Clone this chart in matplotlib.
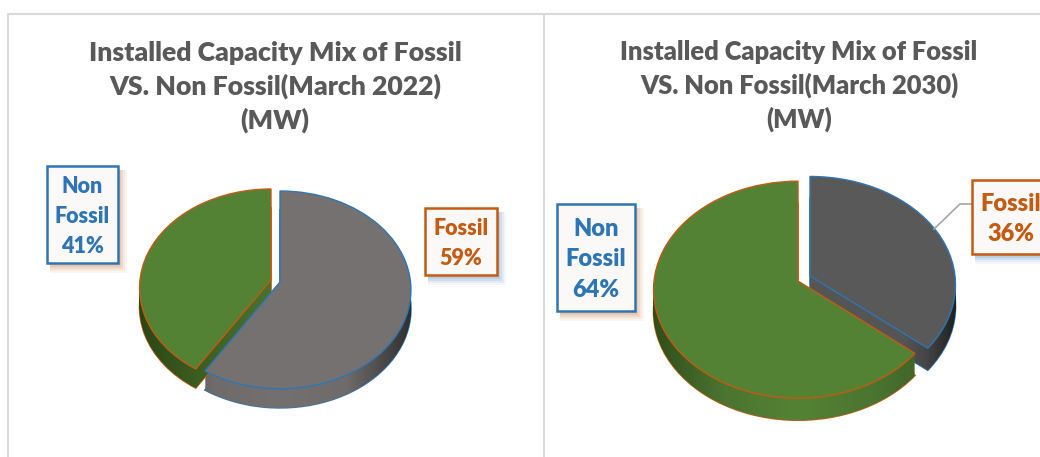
"""Two exploded 3D-look pie charts of fossil vs non fossil capacity."""

import matplotlib
matplotlib.use("Agg")
import matplotlib.pyplot as plt
import numpy as np
from matplotlib.colors import LinearSegmentedColormap
from matplotlib.patches import Rectangle
from matplotlib.transforms import Transform

categories = ["Fossil", "Non\nFossil"]
shares_2022 = [59, 41]
shares_2030 = [36, 64]
title_2022 = "Installed Capacity Mix of Fossil\nVS. Non Fossil(March 2022)\n(MW)"
title_2030 = "Installed Capacity Mix of Fossil\nVS. Non Fossil(March 2030)\n(MW)"

GREEN = "#548235"
ORANGE = "#c55a11"
BLUE = "#2e75b6"
TITLE_GREY = "#595959"
PANEL_LINE = "#d9d9d9"

plt.rcParams["font.family"] = ["Lato", "DejaVu Sans"]


class TiltedDisk(Transform):
    """Map the unit pie onto a tilted disk in pixel coordinates."""

    input_dims = 2
    output_dims = 2

    def __init__(self, cx, cy, rx, ry, tilt=0.08):
        super().__init__()
        self.cx, self.cy, self.rx, self.ry, self.tilt = cx, cy, rx, ry, tilt

    def transform_non_affine(self, values):
        x, y = np.asarray(values).T
        w = 1 + self.tilt * y
        return np.column_stack([self.cx + self.rx * x / w, self.cy - self.ry * y / w])


def draw_wall(ax, shares, index, disk, depth, shades, edge, zorder):
    """Stack shifted copies of one slice to get the side wall."""
    cx, cy, rx, ry = disk
    cmap = LinearSegmentedColormap.from_list("wall", shades)
    shade = np.linspace(0, 1, 256).reshape(1, -1)
    for step in range(depth, 0, -1):
        wedges, _ = ax.pie(shares, startangle=90, counterclock=False)
        for wedge in wedges:
            wedge.set_visible(False)
        wedge = wedges[index]
        wedge.set_transform(TiltedDisk(cx, cy + step, rx, ry) + ax.transData)
        image = ax.imshow(
            shade,
            cmap=cmap,
            aspect="auto",
            extent=(cx - rx - 2, cx + rx + 2, cy + ry + 40, cy - ry - 20),
            zorder=zorder,
        )
        image.set_clip_path(wedge)
        if step == depth:
            # outline sits under the wall so only the outer rim shows
            wedge.set_visible(True)
            wedge.set_facecolor("none")
            wedge.set_edgecolor(edge)
            wedge.set_linewidth(1.2)
            wedge.set_zorder(zorder - 0.1)


def draw_top(ax, shares, index, disk, color, edge, zorder):
    cx, cy, rx, ry = disk
    wedges, _ = ax.pie(shares, startangle=90, counterclock=False)
    for wedge in wedges:
        wedge.set_visible(False)
    wedge = wedges[index]
    wedge.set_visible(True)
    wedge.set_transform(TiltedDisk(cx, cy, rx, ry) + ax.transData)
    wedge.set_facecolor(color)
    wedge.set_edgecolor(edge)
    wedge.set_linewidth(1.0)
    wedge.set_zorder(zorder)


def draw_label(ax, text, box, color, shadow, size, spacing, center_x=None):
    x0, y0, x1, y1 = box
    for grow, alpha in zip((8, 6, 4, 2), (0.05, 0.08, 0.11, 0.14)):
        ax.add_patch(
            Rectangle((x0 + 3, y0 + 4), x1 - x0 + grow - 2, y1 - y0 + grow - 2, color=shadow, alpha=alpha, lw=0, zorder=20)
        )
    ax.add_patch(Rectangle((x0, y0), x1 - x0, y1 - y0, facecolor="#fbf9f8", edgecolor=color, linewidth=1.8, zorder=21))
    if center_x is None:
        center_x = (x0 + x1) / 2
    ax.text(
        center_x, (y0 + y1) / 2 + 2, text, color=color, fontsize=size, fontweight=800,
        ha="center", va="center", linespacing=spacing, zorder=22,
    )


fig = plt.figure(figsize=(10.4, 4.57), dpi=100)
ax = fig.add_axes([0, 0, 1, 1])

# left chart, grey slice sits in front
grey_left = "#767171"
disk_fossil = (280, 282, 130.5, 98.3)
disk_other = (271, 280, 131, 98.3)
draw_wall(ax, shares_2022, 0, disk_fossil, 19, ["#4a4747", "#6f6b6b", "#757070", "#6f6b6b", "#2f2e2e"], BLUE, 2)
draw_wall(ax, shares_2022, 1, disk_other, 19, ["#2a4616", "#3d6022", "#4a722e", GREEN, GREEN], ORANGE, 3)
draw_top(ax, shares_2022, 1, disk_other, GREEN, ORANGE, 4)
draw_top(ax, shares_2022, 0, disk_fossil, grey_left, BLUE, 5)

# right chart, green slice sits in front
grey_right = "#595959"
disk_fossil = (810, 276, 145, 107.5)
disk_other = (798, 281, 144, 107.8)
draw_wall(
    ax, shares_2030, 0, disk_fossil, 22,
    [(0, "#555555"), (0.82, "#555555"), (0.9, "#444444"), (1, "#1f1f1f")], BLUE, 2,
)
draw_top(ax, shares_2030, 0, disk_fossil, grey_right, BLUE, 3)
draw_wall(ax, shares_2030, 1, disk_other, 22, ["#2f4d1b", "#4b7530", GREEN, "#4b7530", "#3b5c25"], ORANGE, 4)
draw_top(ax, shares_2030, 1, disk_other, GREEN, ORANGE, 5)

ax.set_aspect("auto")
ax.set_xlim(0, 1040)
ax.set_ylim(457, 0)
ax.axis("off")

# panel lines
ax.plot([8, 8, 1040], [457, 14, 14], color=PANEL_LINE, lw=1.5, zorder=1)
ax.plot([544, 544], [14, 457], color=PANEL_LINE, lw=1.5, zorder=1)

ax.text(275, 87, title_2022, color=TITLE_GREY, fontsize=19.2, fontweight=800, ha="center", va="center", linespacing=1.38)
ax.text(799, 86, title_2030, color=TITLE_GREY, fontsize=18.4, fontweight=800, ha="center", va="center", linespacing=1.42)

# leader line of the right fossil label
ax.plot([934, 960, 972], [229, 204, 204], color="#a6a6a6", lw=1.2, zorder=6)

draw_label(ax, f"{categories[1]}\n{shares_2022[1]}%", (47, 166, 118, 263), BLUE, ORANGE, 15.5, 1.52)
draw_label(ax, f"{categories[0]}\n{shares_2022[0]}%", (425, 208, 497, 275), ORANGE, BLUE, 15.5, 1.52)
draw_label(ax, f"{categories[1]}\n{shares_2030[1]}%", (557, 204, 635, 311), BLUE, ORANGE, 17, 1.48)
draw_label(ax, f"{categories[0]}\n{shares_2030[0]}%", (972, 180, 1046, 254), ORANGE, BLUE, 17, 1.48, center_x=1011)

fig.savefig("out.png", dpi=100)
plt.close(fig)
